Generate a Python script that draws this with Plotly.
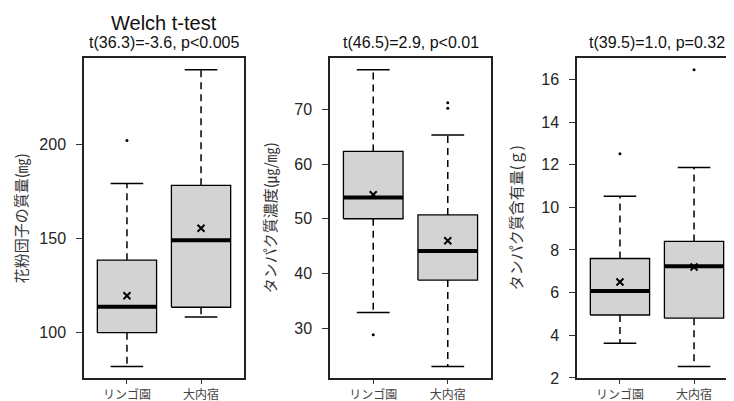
import plotly.graph_objects as go

# ---------------- data ----------------
categories = ["リンゴ園", "大内宿"]

mass_q1 = [100.0, 113.5]
mass_median = [113.8, 149.0]
mass_q3 = [138.5, 178.2]
mass_low = [82.0, 108.3]
mass_high = [179.2, 239.5]
mass_mean = [119.6, 155.4]
mass_outliers = [[202.0], []]

conc_q1 = [50.0, 38.8]
conc_median = [53.9, 44.1]
conc_q3 = [62.3, 50.7]
conc_low = [32.9, 23.0]
conc_high = [77.2, 65.3]
conc_mean = [54.4, 46.0]
conc_outliers = [[28.8], [71.2, 70.2]]

cont_q1 = [4.95, 4.80]
cont_median = [6.07, 7.24]
cont_q3 = [7.60, 8.40]
cont_low = [3.63, 2.53]
cont_high = [10.52, 11.87]
cont_mean = [6.50, 7.20]
cont_outliers = [[12.52], [16.45]]

panel_titles = ["t(36.3)=-3.6, p<0.005", "t(46.5)=2.9, p<0.01", "t(39.5)=1.0, p=0.32"]
main_title = "Welch t-test"
y_labels = ["花粉団子の質量(㎎)", "タンパク質濃度(㎍/㎎)", "タンパク質含有量(ｇ)"]
y_ticks = [[100, 150, 200], [30, 40, 50, 60, 70], [2, 4, 6, 8, 10, 12, 14, 16]]

panels = [
    dict(q1=mass_q1, med=mass_median, q3=mass_q3, lo=mass_low, hi=mass_high, mean=mass_mean, out=mass_outliers),
    dict(q1=conc_q1, med=conc_median, q3=conc_q3, lo=conc_low, hi=conc_high, mean=conc_mean, out=conc_outliers),
    dict(q1=cont_q1, med=cont_median, q3=cont_q3, lo=cont_low, hi=cont_high, mean=cont_mean, out=cont_outliers),
]

# ---------------- layout constants ----------------
W, H = 734, 401
FONT = "Liberation Sans, Arial, Noto Sans CJK JP"
JFONT = "Noto Sans CJK JP, Liberation Sans"
x_domains = [(76 / W, 236 / W), (322 / W, 483 / W), (569 / W, 729 / W)]
y_domain = (1 - 378 / H, 1 - 51 / H)
HALF = 0.4     # half box width
CAP = 0.22     # half cap width
DASH = "7px,5px"

fig = go.Figure()
layout = dict(
    width=W, height=H,
    margin=dict(l=0, r=0, t=0, b=0),
    paper_bgcolor="white", plot_bgcolor="white",
    showlegend=False,
    font=dict(family=FONT, color="#333333"),
)
annotations = []

for i, p in enumerate(panels):
    ax = "" if i == 0 else str(i + 1)
    xr, yr = "x" + ax, "y" + ax
    pos = [1, 2]
    for j, c in enumerate(pos):
        # whiskers (dashed)
        fig.add_trace(go.Scatter(x=[c, c, None, c, c], y=[p["q3"][j], p["hi"][j], None, p["q1"][j], p["lo"][j]],
                                 mode="lines", line=dict(color="black", width=1.5, dash=DASH),
                                 xaxis=xr, yaxis=yr, hoverinfo="skip"))
        # caps
        fig.add_trace(go.Scatter(x=[c - CAP, c + CAP, None, c - CAP, c + CAP],
                                 y=[p["hi"][j], p["hi"][j], None, p["lo"][j], p["lo"][j]],
                                 mode="lines", line=dict(color="black", width=1.5),
                                 xaxis=xr, yaxis=yr, hoverinfo="skip"))
        # box
        fig.add_trace(go.Scatter(x=[c - HALF, c + HALF, c + HALF, c - HALF, c - HALF],
                                 y=[p["q1"][j], p["q1"][j], p["q3"][j], p["q3"][j], p["q1"][j]],
                                 mode="lines", fill="toself", fillcolor="#d3d3d3",
                                 line=dict(color="black", width=1.3),
                                 xaxis=xr, yaxis=yr, hoverinfo="skip"))
        # median
        fig.add_trace(go.Scatter(x=[c - HALF, c + HALF], y=[p["med"][j], p["med"][j]],
                                 mode="lines", line=dict(color="black", width=4),
                                 xaxis=xr, yaxis=yr, hoverinfo="skip"))
        # mean
        fig.add_trace(go.Scatter(x=[c], y=[p["mean"][j]], mode="markers",
                                 marker=dict(symbol="x-thin", size=7, line=dict(color="black", width=2)),
                                 xaxis=xr, yaxis=yr, hoverinfo="skip"))
        # outliers
        if p["out"][j]:
            fig.add_trace(go.Scatter(x=[c] * len(p["out"][j]), y=p["out"][j], mode="markers",
                                     marker=dict(symbol="circle", size=3, color="black"),
                                     xaxis=xr, yaxis=yr, hoverinfo="skip"))

    ymin = min(p["lo"] + [v for o in p["out"] for v in o])
    ymax = max(p["hi"] + [v for o in p["out"] for v in o])
    ext = (ymax - ymin) * 0.04

    layout["xaxis" + ax] = dict(
        domain=list(x_domains[i]), range=[0.42, 2.58], anchor=yr,
        tickmode="array", tickvals=pos, ticktext=categories,
        ticks="outside", ticklen=4, tickwidth=1, tickcolor="#333333",
        tickfont=dict(family=JFONT, size=12, color="#444444"),
        showline=True, linecolor="#222222", linewidth=1.5, mirror=True,
        showgrid=False, zeroline=False, fixedrange=True,
    )
    layout["yaxis" + ax] = dict(
        domain=list(y_domain), range=[ymin - ext, ymax + ext], anchor=xr,
        tickmode="array", tickvals=y_ticks[i],
        ticks="outside", ticklen=6, tickwidth=1, tickcolor="#333333",
        ticklabelstandoff=7,
        tickfont=dict(family=FONT, size=16, color="#262626"),
        showline=True, linecolor="#222222", linewidth=1.5, mirror=True,
        showgrid=False, zeroline=False, fixedrange=True,
    )
    xc = (x_domains[i][0] + x_domains[i][1]) / 2
    annotations.append(dict(text=panel_titles[i], x=xc, y=1 - 35 / H, xref="paper", yref="paper",
                            showarrow=False, xanchor="center", yanchor="middle",
                            font=dict(family=FONT, size=16, color="#111111")))
    ylab_x = [12, 261, 507][i]
    annotations.append(dict(text=y_labels[i], x=ylab_x / W, y=(y_domain[0] + y_domain[1]) / 2,
                            xref="paper", yref="paper", textangle=-90, showarrow=False,
                            xanchor="center", yanchor="middle",
                            font=dict(family=JFONT, size=15, color="#333333")))

annotations.append(dict(text=main_title, x=(x_domains[0][0] + x_domains[0][1]) / 2, y=1 - 15 / H,
                        xref="paper", yref="paper", showarrow=False, xanchor="center", yanchor="middle",
                        font=dict(family=FONT, size=20, color="#111111")))
layout["annotations"] = annotations
fig.update_layout(**layout)
fig.write_html("out.html")
